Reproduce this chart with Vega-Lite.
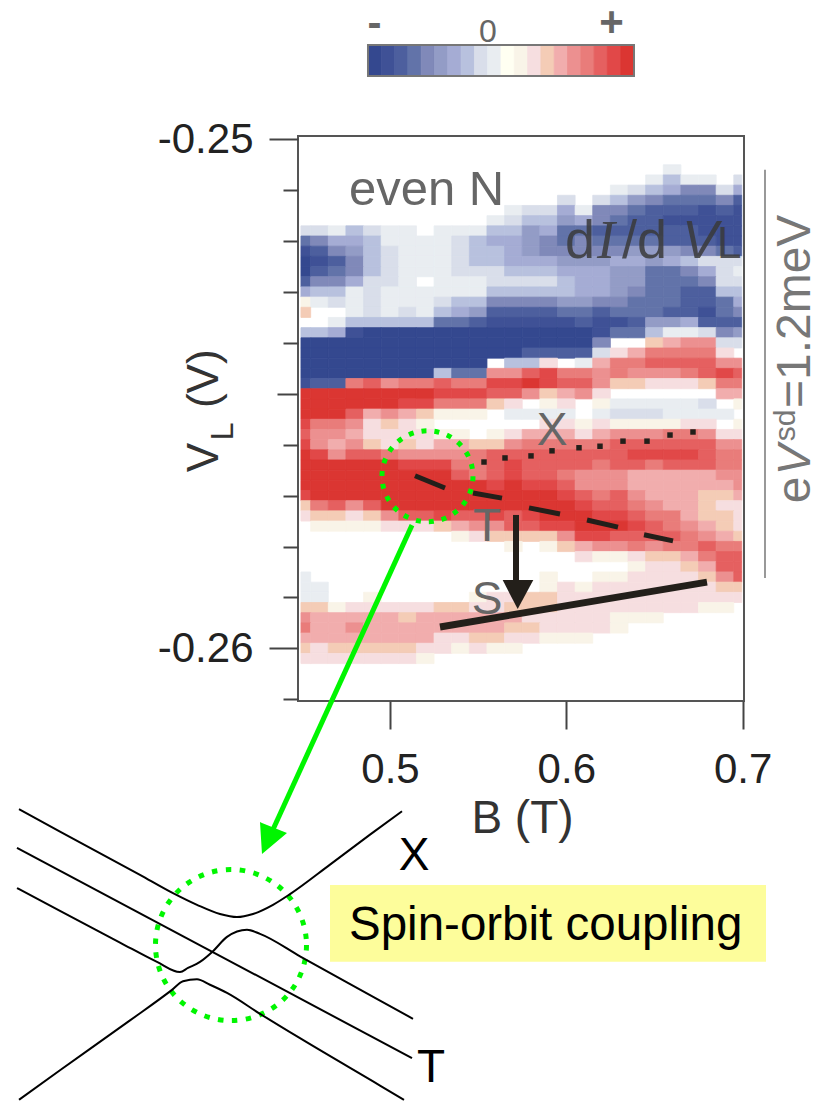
{"$schema":"https://vega.github.io/schema/vega-lite/v6.json","autosize":{"type":"none"},"padding":{"left":298,"top":136,"right":72,"bottom":400},"width":446,"height":565,"background":"white","config":{"view":{"stroke":"#555","strokeWidth":2},"font":"Liberation Sans"},
"encoding":{"x":{"field":"b","type":"quantitative","scale":{"domain":[0.44782,0.70079],"nice":false,"zero":false},"axis":{"values":[0.5,0.6,0.7],"format":".1f","grid":false,"domain":false,"tickSize":28,"tickWidth":2,"tickColor":"#444","labelFontSize":42,"labelColor":"#222","labelPadding":20,"labelFont":"Liberation Sans","labelFlush":false,"labelOverlap":false,"title":"B (T)","titleFontSize":46,"titleFontWeight":"normal","titleColor":"#333","titleFont":"Liberation Sans","titleX":224,"titleY":131,"titleBaseline":"alphabetic","titleAlign":"center"}},
"y":{"field":"v","type":"quantitative","scale":{"domain":[-0.261035,-0.249935],"nice":false,"zero":false},"axis":{"values":[-0.25,-0.251,-0.252,-0.253,-0.254,-0.255,-0.256,-0.257,-0.258,-0.259,-0.26,-0.261],"grid":false,"domain":false,"tickWidth":2,"tickColor":"#444","tickSize":{"condition":[{"test":"abs(datum.value+0.25)<0.0001||abs(datum.value+0.26)<0.0001","value":29},{"test":"abs(datum.value+0.255)<0.0001","value":21}],"value":15},"labelExpr":"abs(datum.value+0.25)<0.0001?'-0.25':abs(datum.value+0.26)<0.0001?'-0.26':''","labelFontSize":42,"labelColor":"#222","labelPadding":16,"labelFont":"Liberation Sans","labelOverlap":false,"labelFlush":false,"title":null}}},
"layer":[
{"data":{"values":[
{"b":0.66,"v":-0.2506,"z":-1},
{"b":0.65,"v":-0.2508,"z":-1},{"b":0.66,"v":-0.2508,"z":-3},{"b":0.67,"v":-0.2508,"z":-1},{"b":0.68,"v":-0.2508,"z":-1},{"b":0.7,"v":-0.2508,"z":-2},
{"b":0.63,"v":-0.251,"z":-1},{"b":0.64,"v":-0.251,"z":-2},{"b":0.65,"v":-0.251,"z":-3},{"b":0.66,"v":-0.251,"z":-4},{"b":0.67,"v":-0.251,"z":-6},{"b":0.68,"v":-0.251,"z":-6},{"b":0.69,"v":-0.251,"z":-2},{"b":0.7,"v":-0.251,"z":-4},
{"b":0.6,"v":-0.2512,"z":-2},{"b":0.62,"v":-0.2512,"z":-2},{"b":0.63,"v":-0.2512,"z":-3},{"b":0.64,"v":-0.2512,"z":-5},{"b":0.65,"v":-0.2512,"z":-6},{"b":0.66,"v":-0.2512,"z":-7},{"b":0.67,"v":-0.2512,"z":-7},{"b":0.68,"v":-0.2512,"z":-7},{"b":0.69,"v":-0.2512,"z":-6},{"b":0.7,"v":-0.2512,"z":-8},
{"b":0.57,"v":-0.2514,"z":-1},{"b":0.58,"v":-0.2514,"z":-2},{"b":0.59,"v":-0.2514,"z":-2},{"b":0.6,"v":-0.2514,"z":-4},{"b":0.61,"v":-0.2514,"z":-1},{"b":0.62,"v":-0.2514,"z":-6},{"b":0.63,"v":-0.2514,"z":-6},{"b":0.64,"v":-0.2514,"z":-7},{"b":0.65,"v":-0.2514,"z":-8},{"b":0.66,"v":-0.2514,"z":-8},{"b":0.67,"v":-0.2514,"z":-8},{"b":0.68,"v":-0.2514,"z":-9},{"b":0.69,"v":-0.2514,"z":-8},{"b":0.7,"v":-0.2514,"z":-9},
{"b":0.56,"v":-0.2516,"z":-1},{"b":0.57,"v":-0.2516,"z":-2},{"b":0.58,"v":-0.2516,"z":-3},{"b":0.59,"v":-0.2516,"z":-3},{"b":0.6,"v":-0.2516,"z":-5},{"b":0.61,"v":-0.2516,"z":-4},{"b":0.62,"v":-0.2516,"z":-6},{"b":0.63,"v":-0.2516,"z":-7},{"b":0.64,"v":-0.2516,"z":-8},{"b":0.65,"v":-0.2516,"z":-8},{"b":0.66,"v":-0.2516,"z":-9},{"b":0.67,"v":-0.2516,"z":-9},{"b":0.68,"v":-0.2516,"z":-9},{"b":0.69,"v":-0.2516,"z":-9},{"b":0.7,"v":-0.2516,"z":-9},
{"b":0.45,"v":-0.2518,"z":-2},{"b":0.46,"v":-0.2518,"z":-2},{"b":0.47,"v":-0.2518,"z":-1},{"b":0.48,"v":-0.2518,"z":-3},{"b":0.49,"v":-0.2518,"z":-2},{"b":0.5,"v":-0.2518,"z":-1},{"b":0.51,"v":-0.2518,"z":-1},{"b":0.53,"v":-0.2518,"z":-1},{"b":0.54,"v":-0.2518,"z":-1},{"b":0.55,"v":-0.2518,"z":-1},{"b":0.56,"v":-0.2518,"z":-3},{"b":0.57,"v":-0.2518,"z":-3},{"b":0.58,"v":-0.2518,"z":-5},{"b":0.59,"v":-0.2518,"z":-4},{"b":0.6,"v":-0.2518,"z":-7},{"b":0.61,"v":-0.2518,"z":-7},{"b":0.62,"v":-0.2518,"z":-8},{"b":0.63,"v":-0.2518,"z":-8},{"b":0.64,"v":-0.2518,"z":-8},{"b":0.65,"v":-0.2518,"z":-8},{"b":0.66,"v":-0.2518,"z":-8},{"b":0.67,"v":-0.2518,"z":-8},{"b":0.68,"v":-0.2518,"z":-9},{"b":0.69,"v":-0.2518,"z":-9},{"b":0.7,"v":-0.2518,"z":-9},
{"b":0.45,"v":-0.252,"z":-7},{"b":0.46,"v":-0.252,"z":-6},{"b":0.47,"v":-0.252,"z":-4},{"b":0.48,"v":-0.252,"z":-4},{"b":0.49,"v":-0.252,"z":-3},{"b":0.5,"v":-0.252,"z":-1},{"b":0.51,"v":-0.252,"z":-1},{"b":0.52,"v":-0.252,"z":-1},{"b":0.53,"v":-0.252,"z":-1},{"b":0.54,"v":-0.252,"z":-2},{"b":0.55,"v":-0.252,"z":-3},{"b":0.56,"v":-0.252,"z":-4},{"b":0.57,"v":-0.252,"z":-4},{"b":0.58,"v":-0.252,"z":-5},{"b":0.59,"v":-0.252,"z":-6},{"b":0.6,"v":-0.252,"z":-7},{"b":0.61,"v":-0.252,"z":-6},{"b":0.62,"v":-0.252,"z":-7},{"b":0.63,"v":-0.252,"z":-7},{"b":0.64,"v":-0.252,"z":-7},{"b":0.65,"v":-0.252,"z":-7},{"b":0.66,"v":-0.252,"z":-8},{"b":0.67,"v":-0.252,"z":-8},{"b":0.68,"v":-0.252,"z":-8},{"b":0.69,"v":-0.252,"z":-9},{"b":0.7,"v":-0.252,"z":-9},
{"b":0.45,"v":-0.2522,"z":-9},{"b":0.46,"v":-0.2522,"z":-8},{"b":0.47,"v":-0.2522,"z":-6},{"b":0.48,"v":-0.2522,"z":-5},{"b":0.49,"v":-0.2522,"z":-3},{"b":0.5,"v":-0.2522,"z":-2},{"b":0.51,"v":-0.2522,"z":-1},{"b":0.52,"v":-0.2522,"z":-1},{"b":0.53,"v":-0.2522,"z":-1},{"b":0.54,"v":-0.2522,"z":-2},{"b":0.55,"v":-0.2522,"z":-3},{"b":0.56,"v":-0.2522,"z":-3},{"b":0.57,"v":-0.2522,"z":-4},{"b":0.58,"v":-0.2522,"z":-5},{"b":0.59,"v":-0.2522,"z":-6},{"b":0.6,"v":-0.2522,"z":-6},{"b":0.61,"v":-0.2522,"z":-6},{"b":0.62,"v":-0.2522,"z":-6},{"b":0.63,"v":-0.2522,"z":-6},{"b":0.64,"v":-0.2522,"z":-5},{"b":0.65,"v":-0.2522,"z":-5},{"b":0.66,"v":-0.2522,"z":-5},{"b":0.67,"v":-0.2522,"z":-6},{"b":0.68,"v":-0.2522,"z":-6},{"b":0.69,"v":-0.2522,"z":-7},{"b":0.7,"v":-0.2522,"z":-8},
{"b":0.45,"v":-0.2524,"z":-10},{"b":0.46,"v":-0.2524,"z":-9},{"b":0.47,"v":-0.2524,"z":-8},{"b":0.48,"v":-0.2524,"z":-6},{"b":0.49,"v":-0.2524,"z":-3},{"b":0.5,"v":-0.2524,"z":-2},{"b":0.51,"v":-0.2524,"z":-1},{"b":0.52,"v":-0.2524,"z":-1},{"b":0.53,"v":-0.2524,"z":-1},{"b":0.54,"v":-0.2524,"z":-2},{"b":0.55,"v":-0.2524,"z":-3},{"b":0.56,"v":-0.2524,"z":-3},{"b":0.57,"v":-0.2524,"z":-4},{"b":0.58,"v":-0.2524,"z":-4},{"b":0.59,"v":-0.2524,"z":-4},{"b":0.6,"v":-0.2524,"z":-5},{"b":0.61,"v":-0.2524,"z":-5},{"b":0.62,"v":-0.2524,"z":-5},{"b":0.63,"v":-0.2524,"z":-4},{"b":0.64,"v":-0.2524,"z":-4},{"b":0.65,"v":-0.2524,"z":-5},{"b":0.66,"v":-0.2524,"z":-4},{"b":0.67,"v":-0.2524,"z":-3},{"b":0.68,"v":-0.2524,"z":-2},{"b":0.69,"v":-0.2524,"z":-2},{"b":0.7,"v":-0.2524,"z":-2},
{"b":0.45,"v":-0.2526,"z":-10},{"b":0.46,"v":-0.2526,"z":-8},{"b":0.47,"v":-0.2526,"z":-7},{"b":0.48,"v":-0.2526,"z":-6},{"b":0.49,"v":-0.2526,"z":-3},{"b":0.5,"v":-0.2526,"z":-2},{"b":0.51,"v":-0.2526,"z":-1},{"b":0.52,"v":-0.2526,"z":-1},{"b":0.53,"v":-0.2526,"z":-1},{"b":0.54,"v":-0.2526,"z":-2},{"b":0.55,"v":-0.2526,"z":-2},{"b":0.56,"v":-0.2526,"z":-2},{"b":0.57,"v":-0.2526,"z":-3},{"b":0.58,"v":-0.2526,"z":-3},{"b":0.59,"v":-0.2526,"z":-3},{"b":0.6,"v":-0.2526,"z":-4},{"b":0.61,"v":-0.2526,"z":-4},{"b":0.62,"v":-0.2526,"z":-4},{"b":0.63,"v":-0.2526,"z":-5},{"b":0.64,"v":-0.2526,"z":-5},{"b":0.65,"v":-0.2526,"z":-7},{"b":0.66,"v":-0.2526,"z":-7},{"b":0.67,"v":-0.2526,"z":-6},{"b":0.68,"v":-0.2526,"z":-4},{"b":0.69,"v":-0.2526,"z":-2},{"b":0.7,"v":-0.2526,"z":-1},
{"b":0.45,"v":-0.2528,"z":-8},{"b":0.46,"v":-0.2528,"z":-6},{"b":0.47,"v":-0.2528,"z":-6},{"b":0.48,"v":-0.2528,"z":-4},{"b":0.49,"v":-0.2528,"z":-2},{"b":0.5,"v":-0.2528,"z":-2},{"b":0.51,"v":-0.2528,"z":-1},{"b":0.53,"v":-0.2528,"z":-1},{"b":0.54,"v":-0.2528,"z":-1},{"b":0.55,"v":-0.2528,"z":-1},{"b":0.56,"v":-0.2528,"z":-2},{"b":0.57,"v":-0.2528,"z":-2},{"b":0.58,"v":-0.2528,"z":-2},{"b":0.59,"v":-0.2528,"z":-2},{"b":0.6,"v":-0.2528,"z":-3},{"b":0.61,"v":-0.2528,"z":-4},{"b":0.62,"v":-0.2528,"z":-4},{"b":0.63,"v":-0.2528,"z":-5},{"b":0.64,"v":-0.2528,"z":-5},{"b":0.65,"v":-0.2528,"z":-7},{"b":0.66,"v":-0.2528,"z":-7},{"b":0.67,"v":-0.2528,"z":-7},{"b":0.68,"v":-0.2528,"z":-6},{"b":0.69,"v":-0.2528,"z":-2},{"b":0.7,"v":-0.2528,"z":-2},
{"b":0.45,"v":-0.253,"z":-4},{"b":0.46,"v":-0.253,"z":-3},{"b":0.47,"v":-0.253,"z":-3},{"b":0.48,"v":-0.253,"z":-1},{"b":0.49,"v":-0.253,"z":-2},{"b":0.5,"v":-0.253,"z":-1},{"b":0.51,"v":-0.253,"z":-1},{"b":0.52,"v":-0.253,"z":-1},{"b":0.53,"v":-0.253,"z":-1},{"b":0.54,"v":-0.253,"z":-1},{"b":0.55,"v":-0.253,"z":-1},{"b":0.56,"v":-0.253,"z":-3},{"b":0.57,"v":-0.253,"z":-3},{"b":0.58,"v":-0.253,"z":-3},{"b":0.59,"v":-0.253,"z":-3},{"b":0.6,"v":-0.253,"z":-3},{"b":0.61,"v":-0.253,"z":-4},{"b":0.62,"v":-0.253,"z":-4},{"b":0.63,"v":-0.253,"z":-5},{"b":0.64,"v":-0.253,"z":-6},{"b":0.65,"v":-0.253,"z":-7},{"b":0.66,"v":-0.253,"z":-7},{"b":0.67,"v":-0.253,"z":-8},{"b":0.68,"v":-0.253,"z":-8},{"b":0.69,"v":-0.253,"z":-3},{"b":0.7,"v":-0.253,"z":-3},
{"b":0.45,"v":-0.2532,"z":1},{"b":0.46,"v":-0.2532,"z":-1},{"b":0.47,"v":-0.2532,"z":-2},{"b":0.48,"v":-0.2532,"z":-1},{"b":0.49,"v":-0.2532,"z":-2},{"b":0.5,"v":-0.2532,"z":-1},{"b":0.51,"v":-0.2532,"z":-1},{"b":0.52,"v":-0.2532,"z":-1},{"b":0.53,"v":-0.2532,"z":-2},{"b":0.54,"v":-0.2532,"z":-3},{"b":0.55,"v":-0.2532,"z":-3},{"b":0.56,"v":-0.2532,"z":-6},{"b":0.57,"v":-0.2532,"z":-6},{"b":0.58,"v":-0.2532,"z":-6},{"b":0.59,"v":-0.2532,"z":-6},{"b":0.6,"v":-0.2532,"z":-5},{"b":0.61,"v":-0.2532,"z":-5},{"b":0.62,"v":-0.2532,"z":-6},{"b":0.63,"v":-0.2532,"z":-6},{"b":0.64,"v":-0.2532,"z":-7},{"b":0.65,"v":-0.2532,"z":-7},{"b":0.66,"v":-0.2532,"z":-7},{"b":0.67,"v":-0.2532,"z":-8},{"b":0.68,"v":-0.2532,"z":-8},{"b":0.69,"v":-0.2532,"z":-7},{"b":0.7,"v":-0.2532,"z":-4},
{"b":0.45,"v":-0.2534,"z":3},{"b":0.48,"v":-0.2534,"z":-1},{"b":0.49,"v":-0.2534,"z":-2},{"b":0.5,"v":-0.2534,"z":-1},{"b":0.51,"v":-0.2534,"z":-2},{"b":0.52,"v":-0.2534,"z":-1},{"b":0.53,"v":-0.2534,"z":-3},{"b":0.54,"v":-0.2534,"z":-4},{"b":0.55,"v":-0.2534,"z":-5},{"b":0.56,"v":-0.2534,"z":-8},{"b":0.57,"v":-0.2534,"z":-8},{"b":0.58,"v":-0.2534,"z":-8},{"b":0.59,"v":-0.2534,"z":-8},{"b":0.6,"v":-0.2534,"z":-7},{"b":0.61,"v":-0.2534,"z":-7},{"b":0.62,"v":-0.2534,"z":-8},{"b":0.63,"v":-0.2534,"z":-7},{"b":0.64,"v":-0.2534,"z":-7},{"b":0.65,"v":-0.2534,"z":-7},{"b":0.66,"v":-0.2534,"z":-8},{"b":0.67,"v":-0.2534,"z":-8},{"b":0.68,"v":-0.2534,"z":-9},{"b":0.69,"v":-0.2534,"z":-7},{"b":0.7,"v":-0.2534,"z":-6},
{"b":0.47,"v":-0.2536,"z":-1},{"b":0.48,"v":-0.2536,"z":-3},{"b":0.49,"v":-0.2536,"z":-3},{"b":0.5,"v":-0.2536,"z":-3},{"b":0.51,"v":-0.2536,"z":-3},{"b":0.52,"v":-0.2536,"z":-3},{"b":0.53,"v":-0.2536,"z":-7},{"b":0.54,"v":-0.2536,"z":-7},{"b":0.55,"v":-0.2536,"z":-8},{"b":0.56,"v":-0.2536,"z":-9},{"b":0.57,"v":-0.2536,"z":-9},{"b":0.58,"v":-0.2536,"z":-9},{"b":0.59,"v":-0.2536,"z":-9},{"b":0.6,"v":-0.2536,"z":-9},{"b":0.61,"v":-0.2536,"z":-8},{"b":0.62,"v":-0.2536,"z":-9},{"b":0.63,"v":-0.2536,"z":-9},{"b":0.64,"v":-0.2536,"z":-8},{"b":0.65,"v":-0.2536,"z":-5},{"b":0.66,"v":-0.2536,"z":-5},{"b":0.67,"v":-0.2536,"z":-4},{"b":0.68,"v":-0.2536,"z":-8},{"b":0.69,"v":-0.2536,"z":-8},{"b":0.7,"v":-0.2536,"z":-8},
{"b":0.45,"v":-0.2538,"z":-3},{"b":0.46,"v":-0.2538,"z":-3},{"b":0.47,"v":-0.2538,"z":-4},{"b":0.48,"v":-0.2538,"z":-9},{"b":0.49,"v":-0.2538,"z":-10},{"b":0.5,"v":-0.2538,"z":-10},{"b":0.51,"v":-0.2538,"z":-10},{"b":0.52,"v":-0.2538,"z":-10},{"b":0.53,"v":-0.2538,"z":-10},{"b":0.54,"v":-0.2538,"z":-10},{"b":0.55,"v":-0.2538,"z":-10},{"b":0.56,"v":-0.2538,"z":-10},{"b":0.57,"v":-0.2538,"z":-10},{"b":0.58,"v":-0.2538,"z":-10},{"b":0.59,"v":-0.2538,"z":-10},{"b":0.6,"v":-0.2538,"z":-10},{"b":0.61,"v":-0.2538,"z":-10},{"b":0.62,"v":-0.2538,"z":-9},{"b":0.63,"v":-0.2538,"z":-7},{"b":0.64,"v":-0.2538,"z":-7},{"b":0.65,"v":-0.2538,"z":-3},{"b":0.66,"v":-0.2538,"z":-1},{"b":0.67,"v":-0.2538,"z":-1},{"b":0.68,"v":-0.2538,"z":-2},{"b":0.69,"v":-0.2538,"z":-6},{"b":0.7,"v":-0.2538,"z":-5},
{"b":0.45,"v":-0.254,"z":-10},{"b":0.46,"v":-0.254,"z":-10},{"b":0.47,"v":-0.254,"z":-10},{"b":0.48,"v":-0.254,"z":-10},{"b":0.49,"v":-0.254,"z":-10},{"b":0.5,"v":-0.254,"z":-10},{"b":0.51,"v":-0.254,"z":-10},{"b":0.52,"v":-0.254,"z":-10},{"b":0.53,"v":-0.254,"z":-10},{"b":0.54,"v":-0.254,"z":-10},{"b":0.55,"v":-0.254,"z":-10},{"b":0.56,"v":-0.254,"z":-10},{"b":0.57,"v":-0.254,"z":-10},{"b":0.58,"v":-0.254,"z":-10},{"b":0.59,"v":-0.254,"z":-10},{"b":0.6,"v":-0.254,"z":-10},{"b":0.61,"v":-0.254,"z":-10},{"b":0.62,"v":-0.254,"z":-6},{"b":0.65,"v":-0.254,"z":3},{"b":0.66,"v":-0.254,"z":4},{"b":0.67,"v":-0.254,"z":5},{"b":0.68,"v":-0.254,"z":5},{"b":0.69,"v":-0.254,"z":-2},{"b":0.7,"v":-0.254,"z":-2},
{"b":0.45,"v":-0.2542,"z":-10},{"b":0.46,"v":-0.2542,"z":-10},{"b":0.47,"v":-0.2542,"z":-10},{"b":0.48,"v":-0.2542,"z":-10},{"b":0.49,"v":-0.2542,"z":-10},{"b":0.5,"v":-0.2542,"z":-10},{"b":0.51,"v":-0.2542,"z":-10},{"b":0.52,"v":-0.2542,"z":-10},{"b":0.53,"v":-0.2542,"z":-10},{"b":0.54,"v":-0.2542,"z":-10},{"b":0.55,"v":-0.2542,"z":-10},{"b":0.56,"v":-0.2542,"z":-10},{"b":0.57,"v":-0.2542,"z":-10},{"b":0.58,"v":-0.2542,"z":-8},{"b":0.59,"v":-0.2542,"z":-8},{"b":0.6,"v":-0.2542,"z":-8},{"b":0.61,"v":-0.2542,"z":-8},{"b":0.62,"v":-0.2542,"z":-2},{"b":0.63,"v":-0.2542,"z":2},{"b":0.64,"v":-0.2542,"z":4},{"b":0.65,"v":-0.2542,"z":6},{"b":0.66,"v":-0.2542,"z":6},{"b":0.67,"v":-0.2542,"z":6},{"b":0.68,"v":-0.2542,"z":6},{"b":0.69,"v":-0.2542,"z":2},
{"b":0.45,"v":-0.2544,"z":-10},{"b":0.46,"v":-0.2544,"z":-10},{"b":0.47,"v":-0.2544,"z":-10},{"b":0.48,"v":-0.2544,"z":-10},{"b":0.49,"v":-0.2544,"z":-10},{"b":0.5,"v":-0.2544,"z":-10},{"b":0.51,"v":-0.2544,"z":-10},{"b":0.52,"v":-0.2544,"z":-10},{"b":0.53,"v":-0.2544,"z":-10},{"b":0.54,"v":-0.2544,"z":-10},{"b":0.55,"v":-0.2544,"z":-10},{"b":0.57,"v":-0.2544,"z":-3},{"b":0.58,"v":-0.2544,"z":-3},{"b":0.59,"v":-0.2544,"z":2},{"b":0.61,"v":-0.2544,"z":-1},{"b":0.62,"v":-0.2544,"z":4},{"b":0.63,"v":-0.2544,"z":6},{"b":0.64,"v":-0.2544,"z":6},{"b":0.65,"v":-0.2544,"z":7},{"b":0.66,"v":-0.2544,"z":7},{"b":0.67,"v":-0.2544,"z":7},{"b":0.68,"v":-0.2544,"z":7},{"b":0.69,"v":-0.2544,"z":5},{"b":0.7,"v":-0.2544,"z":5},
{"b":0.45,"v":-0.2546,"z":-10},{"b":0.46,"v":-0.2546,"z":-10},{"b":0.47,"v":-0.2546,"z":-10},{"b":0.48,"v":-0.2546,"z":-10},{"b":0.49,"v":-0.2546,"z":-10},{"b":0.5,"v":-0.2546,"z":-10},{"b":0.51,"v":-0.2546,"z":-10},{"b":0.52,"v":-0.2546,"z":-10},{"b":0.53,"v":-0.2546,"z":-3},{"b":0.54,"v":-0.2546,"z":-7},{"b":0.55,"v":-0.2546,"z":-7},{"b":0.56,"v":-0.2546,"z":5},{"b":0.57,"v":-0.2546,"z":5},{"b":0.58,"v":-0.2546,"z":7},{"b":0.59,"v":-0.2546,"z":8},{"b":0.6,"v":-0.2546,"z":6},{"b":0.61,"v":-0.2546,"z":6},{"b":0.62,"v":-0.2546,"z":5},{"b":0.63,"v":-0.2546,"z":6},{"b":0.64,"v":-0.2546,"z":5},{"b":0.65,"v":-0.2546,"z":5},{"b":0.66,"v":-0.2546,"z":5},{"b":0.67,"v":-0.2546,"z":6},{"b":0.68,"v":-0.2546,"z":7},{"b":0.69,"v":-0.2546,"z":8},{"b":0.7,"v":-0.2546,"z":7},
{"b":0.45,"v":-0.2548,"z":-9},{"b":0.46,"v":-0.2548,"z":-8},{"b":0.47,"v":-0.2548,"z":-8},{"b":0.48,"v":-0.2548,"z":6},{"b":0.49,"v":-0.2548,"z":7},{"b":0.5,"v":-0.2548,"z":5},{"b":0.51,"v":-0.2548,"z":6},{"b":0.52,"v":-0.2548,"z":6},{"b":0.53,"v":-0.2548,"z":7},{"b":0.54,"v":-0.2548,"z":6},{"b":0.55,"v":-0.2548,"z":6},{"b":0.56,"v":-0.2548,"z":8},{"b":0.57,"v":-0.2548,"z":8},{"b":0.58,"v":-0.2548,"z":9},{"b":0.59,"v":-0.2548,"z":8},{"b":0.6,"v":-0.2548,"z":7},{"b":0.61,"v":-0.2548,"z":7},{"b":0.62,"v":-0.2548,"z":5},{"b":0.63,"v":-0.2548,"z":3},{"b":0.64,"v":-0.2548,"z":3},{"b":0.65,"v":-0.2548,"z":2},{"b":0.66,"v":-0.2548,"z":2},{"b":0.67,"v":-0.2548,"z":2},{"b":0.68,"v":-0.2548,"z":3},{"b":0.69,"v":-0.2548,"z":6},{"b":0.7,"v":-0.2548,"z":6},
{"b":0.45,"v":-0.255,"z":9},{"b":0.46,"v":-0.255,"z":9},{"b":0.47,"v":-0.255,"z":9},{"b":0.48,"v":-0.255,"z":9},{"b":0.49,"v":-0.255,"z":9},{"b":0.5,"v":-0.255,"z":9},{"b":0.51,"v":-0.255,"z":9},{"b":0.52,"v":-0.255,"z":9},{"b":0.53,"v":-0.255,"z":8},{"b":0.54,"v":-0.255,"z":8},{"b":0.55,"v":-0.255,"z":8},{"b":0.56,"v":-0.255,"z":7},{"b":0.57,"v":-0.255,"z":7},{"b":0.58,"v":-0.255,"z":5},{"b":0.59,"v":-0.255,"z":3},{"b":0.6,"v":-0.255,"z":4},{"b":0.61,"v":-0.255,"z":5},{"b":0.62,"v":-0.255,"z":2},{"b":0.69,"v":-0.255,"z":4},{"b":0.7,"v":-0.255,"z":4},
{"b":0.45,"v":-0.2552,"z":9},{"b":0.46,"v":-0.2552,"z":9},{"b":0.47,"v":-0.2552,"z":9},{"b":0.48,"v":-0.2552,"z":9},{"b":0.49,"v":-0.2552,"z":9},{"b":0.5,"v":-0.2552,"z":9},{"b":0.51,"v":-0.2552,"z":8},{"b":0.52,"v":-0.2552,"z":8},{"b":0.53,"v":-0.2552,"z":6},{"b":0.54,"v":-0.2552,"z":6},{"b":0.55,"v":-0.2552,"z":6},{"b":0.56,"v":-0.2552,"z":3},{"b":0.57,"v":-0.2552,"z":2},{"b":0.59,"v":-0.2552,"z":1},{"b":0.6,"v":-0.2552,"z":2},{"b":0.62,"v":-0.2552,"z":1},{"b":0.63,"v":-0.2552,"z":-1},{"b":0.64,"v":-0.2552,"z":-1},{"b":0.65,"v":-0.2552,"z":-1},{"b":0.66,"v":-0.2552,"z":-1},{"b":0.67,"v":-0.2552,"z":-1},{"b":0.68,"v":-0.2552,"z":-2},{"b":0.7,"v":-0.2552,"z":1},
{"b":0.45,"v":-0.2554,"z":9},{"b":0.46,"v":-0.2554,"z":9},{"b":0.47,"v":-0.2554,"z":9},{"b":0.48,"v":-0.2554,"z":7},{"b":0.49,"v":-0.2554,"z":4},{"b":0.5,"v":-0.2554,"z":5},{"b":0.51,"v":-0.2554,"z":4},{"b":0.52,"v":-0.2554,"z":3},{"b":0.53,"v":-0.2554,"z":1},{"b":0.54,"v":-0.2554,"z":1},{"b":0.55,"v":-0.2554,"z":1},{"b":0.57,"v":-0.2554,"z":-1},{"b":0.58,"v":-0.2554,"z":-1},{"b":0.59,"v":-0.2554,"z":-1},{"b":0.6,"v":-0.2554,"z":-1},{"b":0.62,"v":-0.2554,"z":-1},{"b":0.63,"v":-0.2554,"z":-2},{"b":0.64,"v":-0.2554,"z":-2},{"b":0.65,"v":-0.2554,"z":-2},{"b":0.66,"v":-0.2554,"z":-1},{"b":0.67,"v":-0.2554,"z":-1},{"b":0.68,"v":-0.2554,"z":-1},{"b":0.69,"v":-0.2554,"z":-1},
{"b":0.45,"v":-0.2556,"z":8},{"b":0.46,"v":-0.2556,"z":6},{"b":0.47,"v":-0.2556,"z":6},{"b":0.48,"v":-0.2556,"z":5},{"b":0.49,"v":-0.2556,"z":2},{"b":0.5,"v":-0.2556,"z":3},{"b":0.51,"v":-0.2556,"z":2},{"b":0.52,"v":-0.2556,"z":1},{"b":0.59,"v":-0.2556,"z":2},{"b":0.6,"v":-0.2556,"z":2},{"b":0.61,"v":-0.2556,"z":1},{"b":0.62,"v":-0.2556,"z":2},{"b":0.63,"v":-0.2556,"z":1},{"b":0.64,"v":-0.2556,"z":1},{"b":0.65,"v":-0.2556,"z":1},{"b":0.66,"v":-0.2556,"z":1},{"b":0.67,"v":-0.2556,"z":2},{"b":0.68,"v":-0.2556,"z":2},{"b":0.7,"v":-0.2556,"z":1},
{"b":0.45,"v":-0.2558,"z":7},{"b":0.46,"v":-0.2558,"z":5},{"b":0.47,"v":-0.2558,"z":5},{"b":0.48,"v":-0.2558,"z":4},{"b":0.49,"v":-0.2558,"z":2},{"b":0.5,"v":-0.2558,"z":2},{"b":0.51,"v":-0.2558,"z":2},{"b":0.52,"v":-0.2558,"z":2},{"b":0.53,"v":-0.2558,"z":1},{"b":0.54,"v":-0.2558,"z":1},{"b":0.56,"v":-0.2558,"z":1},{"b":0.57,"v":-0.2558,"z":2},{"b":0.58,"v":-0.2558,"z":4},{"b":0.59,"v":-0.2558,"z":4},{"b":0.6,"v":-0.2558,"z":4},{"b":0.61,"v":-0.2558,"z":2},{"b":0.62,"v":-0.2558,"z":4},{"b":0.63,"v":-0.2558,"z":5},{"b":0.64,"v":-0.2558,"z":5},{"b":0.65,"v":-0.2558,"z":5},{"b":0.66,"v":-0.2558,"z":6},{"b":0.67,"v":-0.2558,"z":6},{"b":0.68,"v":-0.2558,"z":5},{"b":0.69,"v":-0.2558,"z":2},{"b":0.7,"v":-0.2558,"z":2},
{"b":0.45,"v":-0.256,"z":8},{"b":0.46,"v":-0.256,"z":5},{"b":0.47,"v":-0.256,"z":4},{"b":0.48,"v":-0.256,"z":5},{"b":0.49,"v":-0.256,"z":3},{"b":0.5,"v":-0.256,"z":2},{"b":0.51,"v":-0.256,"z":3},{"b":0.52,"v":-0.256,"z":2},{"b":0.53,"v":-0.256,"z":4},{"b":0.54,"v":-0.256,"z":4},{"b":0.55,"v":-0.256,"z":3},{"b":0.56,"v":-0.256,"z":3},{"b":0.57,"v":-0.256,"z":5},{"b":0.58,"v":-0.256,"z":6},{"b":0.59,"v":-0.256,"z":6},{"b":0.6,"v":-0.256,"z":6},{"b":0.61,"v":-0.256,"z":6},{"b":0.62,"v":-0.256,"z":6},{"b":0.63,"v":-0.256,"z":7},{"b":0.64,"v":-0.256,"z":7},{"b":0.65,"v":-0.256,"z":7},{"b":0.66,"v":-0.256,"z":7},{"b":0.67,"v":-0.256,"z":7},{"b":0.68,"v":-0.256,"z":7},{"b":0.69,"v":-0.256,"z":5},{"b":0.7,"v":-0.256,"z":5},
{"b":0.45,"v":-0.2562,"z":9},{"b":0.46,"v":-0.2562,"z":8},{"b":0.47,"v":-0.2562,"z":5},{"b":0.48,"v":-0.2562,"z":7},{"b":0.49,"v":-0.2562,"z":7},{"b":0.5,"v":-0.2562,"z":6},{"b":0.51,"v":-0.2562,"z":5},{"b":0.52,"v":-0.2562,"z":5},{"b":0.53,"v":-0.2562,"z":5},{"b":0.54,"v":-0.2562,"z":5},{"b":0.55,"v":-0.2562,"z":6},{"b":0.56,"v":-0.2562,"z":7},{"b":0.57,"v":-0.2562,"z":7},{"b":0.58,"v":-0.2562,"z":7},{"b":0.59,"v":-0.2562,"z":7},{"b":0.6,"v":-0.2562,"z":7},{"b":0.61,"v":-0.2562,"z":7},{"b":0.62,"v":-0.2562,"z":7},{"b":0.63,"v":-0.2562,"z":7},{"b":0.64,"v":-0.2562,"z":8},{"b":0.65,"v":-0.2562,"z":8},{"b":0.66,"v":-0.2562,"z":8},{"b":0.67,"v":-0.2562,"z":8},{"b":0.68,"v":-0.2562,"z":7},{"b":0.69,"v":-0.2562,"z":6},{"b":0.7,"v":-0.2562,"z":6},
{"b":0.45,"v":-0.2564,"z":9},{"b":0.46,"v":-0.2564,"z":9},{"b":0.47,"v":-0.2564,"z":9},{"b":0.48,"v":-0.2564,"z":9},{"b":0.49,"v":-0.2564,"z":9},{"b":0.5,"v":-0.2564,"z":9},{"b":0.51,"v":-0.2564,"z":8},{"b":0.52,"v":-0.2564,"z":8},{"b":0.53,"v":-0.2564,"z":8},{"b":0.54,"v":-0.2564,"z":6},{"b":0.55,"v":-0.2564,"z":6},{"b":0.56,"v":-0.2564,"z":7},{"b":0.57,"v":-0.2564,"z":8},{"b":0.58,"v":-0.2564,"z":7},{"b":0.59,"v":-0.2564,"z":7},{"b":0.6,"v":-0.2564,"z":7},{"b":0.61,"v":-0.2564,"z":7},{"b":0.62,"v":-0.2564,"z":6},{"b":0.63,"v":-0.2564,"z":7},{"b":0.64,"v":-0.2564,"z":7},{"b":0.65,"v":-0.2564,"z":6},{"b":0.66,"v":-0.2564,"z":7},{"b":0.67,"v":-0.2564,"z":7},{"b":0.68,"v":-0.2564,"z":7},{"b":0.69,"v":-0.2564,"z":6},{"b":0.7,"v":-0.2564,"z":6},
{"b":0.45,"v":-0.2566,"z":9},{"b":0.46,"v":-0.2566,"z":9},{"b":0.47,"v":-0.2566,"z":9},{"b":0.48,"v":-0.2566,"z":9},{"b":0.49,"v":-0.2566,"z":9},{"b":0.5,"v":-0.2566,"z":9},{"b":0.51,"v":-0.2566,"z":9},{"b":0.52,"v":-0.2566,"z":9},{"b":0.53,"v":-0.2566,"z":9},{"b":0.54,"v":-0.2566,"z":7},{"b":0.55,"v":-0.2566,"z":6},{"b":0.56,"v":-0.2566,"z":7},{"b":0.57,"v":-0.2566,"z":8},{"b":0.58,"v":-0.2566,"z":7},{"b":0.59,"v":-0.2566,"z":7},{"b":0.6,"v":-0.2566,"z":6},{"b":0.61,"v":-0.2566,"z":5},{"b":0.62,"v":-0.2566,"z":5},{"b":0.63,"v":-0.2566,"z":5},{"b":0.64,"v":-0.2566,"z":4},{"b":0.65,"v":-0.2566,"z":4},{"b":0.66,"v":-0.2566,"z":4},{"b":0.67,"v":-0.2566,"z":4},{"b":0.68,"v":-0.2566,"z":4},{"b":0.69,"v":-0.2566,"z":5},{"b":0.7,"v":-0.2566,"z":5},
{"b":0.45,"v":-0.2568,"z":9},{"b":0.46,"v":-0.2568,"z":9},{"b":0.47,"v":-0.2568,"z":9},{"b":0.48,"v":-0.2568,"z":9},{"b":0.49,"v":-0.2568,"z":9},{"b":0.5,"v":-0.2568,"z":9},{"b":0.51,"v":-0.2568,"z":9},{"b":0.52,"v":-0.2568,"z":9},{"b":0.53,"v":-0.2568,"z":9},{"b":0.54,"v":-0.2568,"z":9},{"b":0.55,"v":-0.2568,"z":9},{"b":0.56,"v":-0.2568,"z":8},{"b":0.57,"v":-0.2568,"z":9},{"b":0.58,"v":-0.2568,"z":8},{"b":0.59,"v":-0.2568,"z":8},{"b":0.6,"v":-0.2568,"z":7},{"b":0.61,"v":-0.2568,"z":5},{"b":0.62,"v":-0.2568,"z":5},{"b":0.63,"v":-0.2568,"z":5},{"b":0.64,"v":-0.2568,"z":4},{"b":0.65,"v":-0.2568,"z":4},{"b":0.66,"v":-0.2568,"z":4},{"b":0.67,"v":-0.2568,"z":4},{"b":0.68,"v":-0.2568,"z":4},{"b":0.69,"v":-0.2568,"z":4},{"b":0.7,"v":-0.2568,"z":5},
{"b":0.45,"v":-0.257,"z":8},{"b":0.46,"v":-0.257,"z":9},{"b":0.47,"v":-0.257,"z":9},{"b":0.48,"v":-0.257,"z":9},{"b":0.49,"v":-0.257,"z":9},{"b":0.5,"v":-0.257,"z":9},{"b":0.51,"v":-0.257,"z":9},{"b":0.52,"v":-0.257,"z":9},{"b":0.53,"v":-0.257,"z":9},{"b":0.54,"v":-0.257,"z":9},{"b":0.55,"v":-0.257,"z":9},{"b":0.56,"v":-0.257,"z":9},{"b":0.57,"v":-0.257,"z":9},{"b":0.58,"v":-0.257,"z":9},{"b":0.59,"v":-0.257,"z":9},{"b":0.6,"v":-0.257,"z":8},{"b":0.61,"v":-0.257,"z":7},{"b":0.62,"v":-0.257,"z":6},{"b":0.63,"v":-0.257,"z":7},{"b":0.64,"v":-0.257,"z":5},{"b":0.65,"v":-0.257,"z":4},{"b":0.66,"v":-0.257,"z":4},{"b":0.67,"v":-0.257,"z":4},{"b":0.68,"v":-0.257,"z":3},{"b":0.69,"v":-0.257,"z":3},{"b":0.7,"v":-0.257,"z":4},
{"b":0.45,"v":-0.2572,"z":3},{"b":0.46,"v":-0.2572,"z":6},{"b":0.47,"v":-0.2572,"z":7},{"b":0.48,"v":-0.2572,"z":5},{"b":0.49,"v":-0.2572,"z":7},{"b":0.5,"v":-0.2572,"z":9},{"b":0.51,"v":-0.2572,"z":9},{"b":0.52,"v":-0.2572,"z":9},{"b":0.53,"v":-0.2572,"z":9},{"b":0.54,"v":-0.2572,"z":9},{"b":0.55,"v":-0.2572,"z":9},{"b":0.56,"v":-0.2572,"z":9},{"b":0.57,"v":-0.2572,"z":9},{"b":0.58,"v":-0.2572,"z":9},{"b":0.59,"v":-0.2572,"z":9},{"b":0.6,"v":-0.2572,"z":9},{"b":0.61,"v":-0.2572,"z":8},{"b":0.62,"v":-0.2572,"z":7},{"b":0.63,"v":-0.2572,"z":7},{"b":0.64,"v":-0.2572,"z":6},{"b":0.65,"v":-0.2572,"z":5},{"b":0.66,"v":-0.2572,"z":4},{"b":0.67,"v":-0.2572,"z":4},{"b":0.68,"v":-0.2572,"z":3},{"b":0.69,"v":-0.2572,"z":2},{"b":0.7,"v":-0.2572,"z":2},
{"b":0.45,"v":-0.2574,"z":2},{"b":0.46,"v":-0.2574,"z":3},{"b":0.47,"v":-0.2574,"z":3},{"b":0.48,"v":-0.2574,"z":2},{"b":0.49,"v":-0.2574,"z":3},{"b":0.5,"v":-0.2574,"z":5},{"b":0.51,"v":-0.2574,"z":7},{"b":0.52,"v":-0.2574,"z":7},{"b":0.53,"v":-0.2574,"z":8},{"b":0.54,"v":-0.2574,"z":7},{"b":0.55,"v":-0.2574,"z":7},{"b":0.56,"v":-0.2574,"z":8},{"b":0.57,"v":-0.2574,"z":7},{"b":0.58,"v":-0.2574,"z":8},{"b":0.59,"v":-0.2574,"z":9},{"b":0.6,"v":-0.2574,"z":9},{"b":0.61,"v":-0.2574,"z":9},{"b":0.62,"v":-0.2574,"z":8},{"b":0.63,"v":-0.2574,"z":8},{"b":0.64,"v":-0.2574,"z":7},{"b":0.65,"v":-0.2574,"z":6},{"b":0.66,"v":-0.2574,"z":6},{"b":0.67,"v":-0.2574,"z":4},{"b":0.68,"v":-0.2574,"z":3},{"b":0.69,"v":-0.2574,"z":3},{"b":0.7,"v":-0.2574,"z":2},
{"b":0.46,"v":-0.2576,"z":1},{"b":0.47,"v":-0.2576,"z":1},{"b":0.48,"v":-0.2576,"z":1},{"b":0.49,"v":-0.2576,"z":1},{"b":0.5,"v":-0.2576,"z":2},{"b":0.51,"v":-0.2576,"z":2},{"b":0.52,"v":-0.2576,"z":2},{"b":0.53,"v":-0.2576,"z":3},{"b":0.54,"v":-0.2576,"z":4},{"b":0.55,"v":-0.2576,"z":5},{"b":0.56,"v":-0.2576,"z":5},{"b":0.57,"v":-0.2576,"z":7},{"b":0.58,"v":-0.2576,"z":7},{"b":0.59,"v":-0.2576,"z":8},{"b":0.6,"v":-0.2576,"z":8},{"b":0.61,"v":-0.2576,"z":9},{"b":0.62,"v":-0.2576,"z":9},{"b":0.63,"v":-0.2576,"z":9},{"b":0.64,"v":-0.2576,"z":8},{"b":0.65,"v":-0.2576,"z":7},{"b":0.66,"v":-0.2576,"z":6},{"b":0.67,"v":-0.2576,"z":5},{"b":0.68,"v":-0.2576,"z":4},{"b":0.69,"v":-0.2576,"z":3},{"b":0.7,"v":-0.2576,"z":2},
{"b":0.54,"v":-0.2578,"z":1},{"b":0.55,"v":-0.2578,"z":2},{"b":0.56,"v":-0.2578,"z":3},{"b":0.57,"v":-0.2578,"z":3},{"b":0.58,"v":-0.2578,"z":3},{"b":0.59,"v":-0.2578,"z":3},{"b":0.6,"v":-0.2578,"z":5},{"b":0.61,"v":-0.2578,"z":8},{"b":0.62,"v":-0.2578,"z":8},{"b":0.63,"v":-0.2578,"z":7},{"b":0.64,"v":-0.2578,"z":7},{"b":0.65,"v":-0.2578,"z":7},{"b":0.66,"v":-0.2578,"z":7},{"b":0.67,"v":-0.2578,"z":6},{"b":0.68,"v":-0.2578,"z":5},{"b":0.69,"v":-0.2578,"z":4},{"b":0.7,"v":-0.2578,"z":3},
{"b":0.57,"v":-0.258,"z":1},{"b":0.59,"v":-0.258,"z":1},{"b":0.6,"v":-0.258,"z":3},{"b":0.61,"v":-0.258,"z":4},{"b":0.62,"v":-0.258,"z":5},{"b":0.63,"v":-0.258,"z":5},{"b":0.64,"v":-0.258,"z":6},{"b":0.65,"v":-0.258,"z":5},{"b":0.66,"v":-0.258,"z":6},{"b":0.67,"v":-0.258,"z":6},{"b":0.68,"v":-0.258,"z":7},{"b":0.69,"v":-0.258,"z":6},{"b":0.7,"v":-0.258,"z":6},
{"b":0.61,"v":-0.2582,"z":2},{"b":0.62,"v":-0.2582,"z":1},{"b":0.63,"v":-0.2582,"z":1},{"b":0.64,"v":-0.2582,"z":2},{"b":0.65,"v":-0.2582,"z":3},{"b":0.66,"v":-0.2582,"z":3},{"b":0.67,"v":-0.2582,"z":4},{"b":0.68,"v":-0.2582,"z":6},{"b":0.69,"v":-0.2582,"z":7},{"b":0.7,"v":-0.2582,"z":7},
{"b":0.64,"v":-0.2584,"z":1},{"b":0.65,"v":-0.2584,"z":2},{"b":0.66,"v":-0.2584,"z":2},{"b":0.67,"v":-0.2584,"z":3},{"b":0.68,"v":-0.2584,"z":4},{"b":0.69,"v":-0.2584,"z":7},{"b":0.7,"v":-0.2584,"z":7},
{"b":0.45,"v":-0.2586,"z":-1},{"b":0.59,"v":-0.2586,"z":1},{"b":0.62,"v":-0.2586,"z":1},{"b":0.63,"v":-0.2586,"z":1},{"b":0.64,"v":-0.2586,"z":2},{"b":0.65,"v":-0.2586,"z":2},{"b":0.66,"v":-0.2586,"z":2},{"b":0.67,"v":-0.2586,"z":2},{"b":0.68,"v":-0.2586,"z":3},{"b":0.69,"v":-0.2586,"z":5},{"b":0.7,"v":-0.2586,"z":7},
{"b":0.45,"v":-0.2588,"z":-1},{"b":0.46,"v":-0.2588,"z":-1},{"b":0.59,"v":-0.2588,"z":1},{"b":0.6,"v":-0.2588,"z":2},{"b":0.61,"v":-0.2588,"z":1},{"b":0.62,"v":-0.2588,"z":2},{"b":0.63,"v":-0.2588,"z":2},{"b":0.64,"v":-0.2588,"z":2},{"b":0.65,"v":-0.2588,"z":2},{"b":0.66,"v":-0.2588,"z":2},{"b":0.67,"v":-0.2588,"z":2},{"b":0.68,"v":-0.2588,"z":2},{"b":0.69,"v":-0.2588,"z":3},{"b":0.7,"v":-0.2588,"z":3},
{"b":0.45,"v":-0.259,"z":-1},{"b":0.46,"v":-0.259,"z":-1},{"b":0.49,"v":-0.259,"z":1},{"b":0.55,"v":-0.259,"z":1},{"b":0.56,"v":-0.259,"z":2},{"b":0.57,"v":-0.259,"z":2},{"b":0.58,"v":-0.259,"z":3},{"b":0.59,"v":-0.259,"z":3},{"b":0.6,"v":-0.259,"z":2},{"b":0.61,"v":-0.259,"z":2},{"b":0.62,"v":-0.259,"z":2},{"b":0.63,"v":-0.259,"z":2},{"b":0.64,"v":-0.259,"z":2},{"b":0.65,"v":-0.259,"z":2},{"b":0.66,"v":-0.259,"z":2},{"b":0.67,"v":-0.259,"z":2},{"b":0.68,"v":-0.259,"z":2},{"b":0.69,"v":-0.259,"z":2},{"b":0.7,"v":-0.259,"z":2},
{"b":0.45,"v":-0.2592,"z":3},{"b":0.46,"v":-0.2592,"z":3},{"b":0.47,"v":-0.2592,"z":1},{"b":0.48,"v":-0.2592,"z":2},{"b":0.49,"v":-0.2592,"z":2},{"b":0.5,"v":-0.2592,"z":2},{"b":0.51,"v":-0.2592,"z":2},{"b":0.52,"v":-0.2592,"z":2},{"b":0.53,"v":-0.2592,"z":3},{"b":0.54,"v":-0.2592,"z":3},{"b":0.55,"v":-0.2592,"z":2},{"b":0.56,"v":-0.2592,"z":2},{"b":0.57,"v":-0.2592,"z":3},{"b":0.58,"v":-0.2592,"z":3},{"b":0.59,"v":-0.2592,"z":3},{"b":0.6,"v":-0.2592,"z":2},{"b":0.61,"v":-0.2592,"z":2},{"b":0.62,"v":-0.2592,"z":2},{"b":0.63,"v":-0.2592,"z":2},{"b":0.64,"v":-0.2592,"z":2},{"b":0.65,"v":-0.2592,"z":2},{"b":0.66,"v":-0.2592,"z":2},{"b":0.67,"v":-0.2592,"z":2},{"b":0.68,"v":-0.2592,"z":1},{"b":0.69,"v":-0.2592,"z":1},
{"b":0.45,"v":-0.2594,"z":5},{"b":0.46,"v":-0.2594,"z":4},{"b":0.47,"v":-0.2594,"z":4},{"b":0.48,"v":-0.2594,"z":4},{"b":0.49,"v":-0.2594,"z":4},{"b":0.5,"v":-0.2594,"z":4},{"b":0.51,"v":-0.2594,"z":3},{"b":0.52,"v":-0.2594,"z":4},{"b":0.53,"v":-0.2594,"z":4},{"b":0.54,"v":-0.2594,"z":4},{"b":0.55,"v":-0.2594,"z":4},{"b":0.56,"v":-0.2594,"z":4},{"b":0.57,"v":-0.2594,"z":4},{"b":0.58,"v":-0.2594,"z":2},{"b":0.59,"v":-0.2594,"z":2},{"b":0.6,"v":-0.2594,"z":2},{"b":0.61,"v":-0.2594,"z":2},{"b":0.62,"v":-0.2594,"z":2},{"b":0.63,"v":-0.2594,"z":1},{"b":0.64,"v":-0.2594,"z":1},{"b":0.65,"v":-0.2594,"z":1},
{"b":0.45,"v":-0.2596,"z":6},{"b":0.46,"v":-0.2596,"z":4},{"b":0.47,"v":-0.2596,"z":4},{"b":0.48,"v":-0.2596,"z":5},{"b":0.49,"v":-0.2596,"z":4},{"b":0.5,"v":-0.2596,"z":4},{"b":0.51,"v":-0.2596,"z":4},{"b":0.52,"v":-0.2596,"z":4},{"b":0.53,"v":-0.2596,"z":4},{"b":0.54,"v":-0.2596,"z":4},{"b":0.55,"v":-0.2596,"z":4},{"b":0.56,"v":-0.2596,"z":4},{"b":0.57,"v":-0.2596,"z":3},{"b":0.58,"v":-0.2596,"z":3},{"b":0.59,"v":-0.2596,"z":2},{"b":0.6,"v":-0.2596,"z":2},{"b":0.61,"v":-0.2596,"z":2},{"b":0.62,"v":-0.2596,"z":2},{"b":0.63,"v":-0.2596,"z":1},
{"b":0.45,"v":-0.2598,"z":4},{"b":0.46,"v":-0.2598,"z":4},{"b":0.47,"v":-0.2598,"z":4},{"b":0.48,"v":-0.2598,"z":4},{"b":0.49,"v":-0.2598,"z":4},{"b":0.5,"v":-0.2598,"z":4},{"b":0.51,"v":-0.2598,"z":4},{"b":0.52,"v":-0.2598,"z":4},{"b":0.53,"v":-0.2598,"z":2},{"b":0.54,"v":-0.2598,"z":2},{"b":0.55,"v":-0.2598,"z":3},{"b":0.56,"v":-0.2598,"z":3},{"b":0.57,"v":-0.2598,"z":2},{"b":0.58,"v":-0.2598,"z":2},{"b":0.59,"v":-0.2598,"z":1},{"b":0.6,"v":-0.2598,"z":1},{"b":0.61,"v":-0.2598,"z":1},
{"b":0.45,"v":-0.26,"z":3},{"b":0.46,"v":-0.26,"z":2},{"b":0.47,"v":-0.26,"z":3},{"b":0.48,"v":-0.26,"z":3},{"b":0.49,"v":-0.26,"z":3},{"b":0.5,"v":-0.26,"z":3},{"b":0.51,"v":-0.26,"z":3},{"b":0.52,"v":-0.26,"z":2},{"b":0.53,"v":-0.26,"z":2},{"b":0.54,"v":-0.26,"z":1},{"b":0.55,"v":-0.26,"z":2},{"b":0.56,"v":-0.26,"z":1},{"b":0.57,"v":-0.26,"z":1},
{"b":0.45,"v":-0.2602,"z":2},{"b":0.46,"v":-0.2602,"z":2},{"b":0.47,"v":-0.2602,"z":2},{"b":0.48,"v":-0.2602,"z":2},{"b":0.49,"v":-0.2602,"z":2},{"b":0.5,"v":-0.2602,"z":2},{"b":0.51,"v":-0.2602,"z":2},{"b":0.52,"v":-0.2602,"z":1}
]},"transform":[{"calculate":"min(datum.b+0.005,0.6995)","as":"b2"},{"calculate":"max(datum.b-0.005,0.4495)","as":"b"},{"calculate":"datum.v-0.0001","as":"v2"},{"calculate":"datum.v+0.0001","as":"v"}],"mark":{"type":"rect","strokeWidth":0.8},"encoding":{"x2":{"field":"b2"},"y2":{"field":"v2"},"stroke":{"field":"z","type":"quantitative","scale":{"domain":[-10,-9,-8,-7,-6,-5,-4,-3,-2,-1,0,1,2,3,4,5,6,7,8,9,10],"range":["#34488f","#3f5196","#4d5f9e","#6273a9","#8089b9","#939cc6","#a5acd4","#b8c1de","#d9deea","#e9edf1","#ffffff","#f9f4e8","#f6dee0","#f4ccb6","#f1adad","#ec9090","#e97c7a","#e56060","#e14848","#db3632","#db3632"]},"legend":null},"color":{"field":"z","type":"quantitative","scale":{"domain":[-10,-9,-8,-7,-6,-5,-4,-3,-2,-1,0,1,2,3,4,5,6,7,8,9,10],"range":["#34488f","#3f5196","#4d5f9e","#6273a9","#8089b9","#939cc6","#a5acd4","#b8c1de","#d9deea","#e9edf1","#ffffff","#f9f4e8","#f6dee0","#f4ccb6","#f1adad","#ec9090","#e97c7a","#e56060","#e14848","#db3632","#db3632"]},"legend":null}}},
{"data":{"values":[{"b":0.48752,"b2":0.49506,"z":-10},{"b":0.49506,"b2":0.50261,"z":-9},{"b":0.50261,"b2":0.51015,"z":-8},{"b":0.51015,"b2":0.5177,"z":-7},{"b":0.5177,"b2":0.52524,"z":-6},{"b":0.52524,"b2":0.53278,"z":-5},{"b":0.53278,"b2":0.54033,"z":-4},{"b":0.54033,"b2":0.54787,"z":-3},{"b":0.54787,"b2":0.55542,"z":-2},{"b":0.55542,"b2":0.56296,"z":-1},{"b":0.56296,"b2":0.5705,"z":0},{"b":0.5705,"b2":0.57805,"z":1},{"b":0.57805,"b2":0.58559,"z":2},{"b":0.58559,"b2":0.59314,"z":3},{"b":0.59314,"b2":0.60068,"z":4},{"b":0.60068,"b2":0.60822,"z":5},{"b":0.60822,"b2":0.61577,"z":6},{"b":0.61577,"b2":0.62331,"z":7},{"b":0.62331,"b2":0.63086,"z":8},{"b":0.63086,"b2":0.6384,"z":9}]},"transform":[{"calculate":"-0.248147","as":"v"},{"calculate":"-0.248756","as":"v2"}],"mark":{"type":"rect","strokeWidth":0.8},"encoding":{"x2":{"field":"b2"},"y2":{"field":"v2"},"stroke":{"field":"z","type":"quantitative","scale":{"domain":[-10,-9,-8,-7,-6,-5,-4,-3,-2,-1,0,1,2,3,4,5,6,7,8,9,10],"range":["#34488f","#3f5196","#4d5f9e","#6273a9","#8089b9","#939cc6","#a5acd4","#b8c1de","#d9deea","#e9edf1","#ffffff","#f9f4e8","#f6dee0","#f4ccb6","#f1adad","#ec9090","#e97c7a","#e56060","#e14848","#db3632","#db3632"]},"legend":null},"color":{"field":"z","type":"quantitative","scale":{"domain":[-10,-9,-8,-7,-6,-5,-4,-3,-2,-1,0,1,2,3,4,5,6,7,8,9,10],"range":["#34488f","#3f5196","#4d5f9e","#6273a9","#8089b9","#939cc6","#a5acd4","#b8c1de","#d9deea","#e9edf1","#ffffff","#f9f4e8","#f6dee0","#f4ccb6","#f1adad","#ec9090","#e97c7a","#e56060","#e14848","#db3632","#db3632"]},"legend":null}}},
{"data":{"values":[{"b":0.48752,"b2":0.6384,"v":-0.248147,"v2":-0.248756}]},"mark":{"type":"rect","filled":false,"stroke":"#777","strokeWidth":2},"encoding":{"x2":{"field":"b2"},"y2":{"field":"v2"}}},
{"data":{"values":[{"b":0.46597,"b2":0.71327,"v":-0.26465,"v2":-0.26616}]},"mark":{"type":"rect","fill":"#fdfd9b"},"encoding":{"x2":{"field":"b2"},"y2":{"field":"v2"}}},
{"data":{"values":[{"b":0.7127,"v":-0.2506,"v2":-0.25862}]},"mark":{"type":"rule","stroke":"#777","strokeWidth":1.5},"encoding":{"y2":{"field":"v2"}}},
{"data":{"values":[{"b":0.51248,"v":-0.25758},{"b":0.43137,"v":-0.26373}]},"mark":{"type":"line","stroke":"#00f500","strokeWidth":5},"encoding":{"order":{"field":"v","sort":"descending"}}},
{"data":{"values":[{"b":0.42626,"v":-0.26341,"v2":-0.26341},{"b":0.4274,"v":-0.26343,"v2":-0.26404},{"b":0.44158,"v":-0.26363,"v2":-0.26363}]},"mark":{"type":"area","fill":"#00f500"},"encoding":{"y2":{"field":"v2"}}},
{"data":{"values":[{"b":0.52127,"v":-0.25662}]},"mark":{"type":"point","shape":"circle","filled":false,"size":8281,"stroke":"#00f500","strokeWidth":5,"strokeDash":[5,8],"opacity":1}},
{"data":{"values":[{"b":0.40981,"v":-0.26583}]},"mark":{"type":"point","shape":"circle","filled":false,"size":22801,"stroke":"#00f500","strokeWidth":5,"strokeDash":[5.5,8.5],"opacity":1}},
{"data":{"values":[{"b":0.52836,"v":-0.25958},{"b":0.67981,"v":-0.2587}]},"mark":{"type":"line","stroke":"#231f1a","strokeWidth":7}},
{"data":{"values":[{"b":0.57147,"v":-0.25738},{"b":0.57147,"v":-0.25876}]},"mark":{"type":"line","stroke":"#231f1a","strokeWidth":6},"encoding":{"order":{"field":"v","sort":"descending"}}},
{"data":{"values":[{"b":0.56392,"v":-0.25866,"v2":-0.25866},{"b":0.57243,"v":-0.25866,"v2":-0.25923},{"b":0.58128,"v":-0.25866,"v2":-0.25866}]},"mark":{"type":"area","fill":"#231f1a"},"encoding":{"y2":{"field":"v2"}}},
{"data":{"values":[{"s":1,"b":0.51418,"v":-0.25661},{"s":1,"b":0.5312,"v":-0.25685},{"s":2,"b":0.54708,"v":-0.25695},{"s":2,"b":0.56353,"v":-0.25705},{"s":3,"b":0.57884,"v":-0.25724},{"s":3,"b":0.59643,"v":-0.25736},{"s":4,"b":0.61174,"v":-0.25748},{"s":4,"b":0.62932,"v":-0.25762},{"s":5,"b":0.64407,"v":-0.25777},{"s":5,"b":0.66052,"v":-0.25789}]},"mark":{"type":"line","stroke":"#231f1a","strokeWidth":5},"encoding":{"detail":{"field":"s"}}},
{"data":{"values":[{"b":0.55332,"v":-0.25634},{"b":0.56523,"v":-0.25626},{"b":0.57998,"v":-0.25622},{"b":0.59189,"v":-0.25612},{"b":0.6072,"v":-0.25606},{"b":0.61911,"v":-0.25603},{"b":0.63216,"v":-0.25593},{"b":0.64577,"v":-0.25593},{"b":0.65882,"v":-0.25581},{"b":0.67186,"v":-0.25575}]},"mark":{"type":"point","shape":"square","filled":true,"size":30,"color":"#231f1a","opacity":1}},
{"data":{"values":[{"s":"a","b":0.28957,"v":-0.26316},{"s":"a","b":0.31282,"v":-0.2636},{"s":"a","b":0.3582,"v":-0.26445},{"s":"a","b":0.37692,"v":-0.26481},{"s":"a","b":0.39053,"v":-0.26504},{"s":"a","b":0.40357,"v":-0.26522},{"s":"a","b":0.41322,"v":-0.26528},{"s":"a","b":0.42229,"v":-0.26522},{"s":"a","b":0.43364,"v":-0.26504},{"s":"a","b":0.44328,"v":-0.26483},{"s":"a","b":0.46597,"v":-0.26425},{"s":"a","b":0.48866,"v":-0.26366},{"s":"a","b":0.50681,"v":-0.2632},{"s":"b","b":0.28843,"v":-0.26392},{"s":"b","b":0.51248,"v":-0.26805},{"s":"c","b":0.28843,"v":-0.26471},{"s":"c","b":0.31282,"v":-0.26516},{"s":"c","b":0.34685,"v":-0.26578},{"s":"c","b":0.36784,"v":-0.26616},{"s":"c","b":0.38089,"v":-0.26636},{"s":"c","b":0.38542,"v":-0.26628},{"s":"c","b":0.39223,"v":-0.26616},{"s":"c","b":0.3996,"v":-0.26595},{"s":"c","b":0.40755,"v":-0.26567},{"s":"c","b":0.41889,"v":-0.26553},{"s":"c","b":0.42626,"v":-0.26561},{"s":"c","b":0.44895,"v":-0.26605},{"s":"c","b":0.49433,"v":-0.26692},{"s":"c","b":0.51305,"v":-0.26728},{"s":"d","b":0.28957,"v":-0.26887},{"s":"d","b":0.31282,"v":-0.26829},{"s":"d","b":0.35253,"v":-0.26731},{"s":"d","b":0.37635,"v":-0.26671},{"s":"d","b":0.38259,"v":-0.26654},{"s":"d","b":0.39053,"v":-0.2665},{"s":"d","b":0.3979,"v":-0.26661},{"s":"d","b":0.40755,"v":-0.26677},{"s":"d","b":0.42626,"v":-0.26718},{"s":"d","b":0.44895,"v":-0.26766},{"s":"d","b":0.49433,"v":-0.26859},{"s":"d","b":0.50794,"v":-0.26887}]},"mark":{"type":"line","stroke":"black","strokeWidth":2,"interpolate":"monotone"},"encoding":{"detail":{"field":"s"}}},
{"data":{"values":[{"t":"even N","b":0.47674,"v":-0.25129}]},"mark":{"type":"text","align":"left","baseline":"alphabetic","fontSize":49,"color":"#666"},"encoding":{"text":{"field":"t"}}},
{"data":{"values":[{"t":"X","b":0.59189,"v":-0.25601},{"t":"T","b":0.55502,"v":-0.25789},{"t":"S","b":0.55502,"v":-0.25933}]},"mark":{"type":"text","align":"center","baseline":"alphabetic","fontSize":46,"color":"#666"},"encoding":{"text":{"field":"t"}}},
{"data":{"values":[{"t":"0","b":0.55559,"v":-0.24809}]},"mark":{"type":"text","align":"center","baseline":"alphabetic","fontSize":32,"color":"#666"},"encoding":{"text":{"field":"t"}}},
{"data":{"values":[{"t":"-","b":0.49121,"v":-0.24799},{"t":"+","b":0.62564,"v":-0.24797}]},"mark":{"type":"text","align":"center","baseline":"alphabetic","fontSize":42,"fontWeight":"bold","color":"#666"},"encoding":{"text":{"field":"t"}}},
{"data":{"values":[{"t":"d","b":0.59926,"v":-0.25233},{"t":"/d","b":0.63159,"v":-0.25233}]},"mark":{"type":"text","align":"left","baseline":"alphabetic","fontSize":54,"color":"#3a3a3a","opacity":0.85},"encoding":{"text":{"field":"t"}}},
{"data":{"values":[{"t":"I","b":0.61741,"v":-0.25233}]},"mark":{"type":"text","align":"left","baseline":"alphabetic","fontSize":54,"font":"Liberation Serif","fontStyle":"italic","color":"#3a3a3a","opacity":0.85},"encoding":{"text":{"field":"t"}}},
{"data":{"values":[{"t":"V","b":0.66563,"v":-0.25233}]},"mark":{"type":"text","align":"left","baseline":"alphabetic","fontSize":54,"fontStyle":"italic","color":"#3a3a3a","opacity":0.85},"encoding":{"text":{"field":"t"}}},
{"data":{"values":[{"t":"L","b":0.68548,"v":-0.25233}]},"mark":{"type":"text","align":"left","baseline":"alphabetic","fontSize":44,"color":"#3a3a3a","opacity":0.85},"encoding":{"text":{"field":"t"}}},
{"data":{"values":[{"t":"e","b":0.73823,"v":-0.25715},{"t":"=1.2meV","b":0.73823,"v":-0.25528}]},"mark":{"type":"text","align":"left","baseline":"alphabetic","angle":270,"fontSize":48,"color":"#777"},"encoding":{"text":{"field":"t"}}},
{"data":{"values":[{"t":"V","b":0.73823,"v":-0.2566}]},"mark":{"type":"text","align":"left","baseline":"alphabetic","angle":270,"fontSize":46,"fontStyle":"italic","color":"#777"},"encoding":{"text":{"field":"t"}}},
{"data":{"values":[{"t":"sd","b":0.72972,"v":-0.25593}]},"mark":{"type":"text","align":"left","baseline":"alphabetic","angle":270,"fontSize":30,"color":"#777"},"encoding":{"text":{"field":"t"}}},
{"data":{"values":[{"t":"V","b":0.40244,"v":-0.25654},{"t":"(V)","b":0.40244,"v":-0.25528}]},"mark":{"type":"text","align":"left","baseline":"alphabetic","angle":270,"fontSize":44,"color":"#333"},"encoding":{"text":{"field":"t"}}},
{"data":{"values":[{"t":"L","b":0.41095,"v":-0.25591}]},"mark":{"type":"text","align":"left","baseline":"alphabetic","angle":270,"fontSize":32,"color":"#333"},"encoding":{"text":{"field":"t"}}},
{"data":{"values":[{"t":"X","b":0.51361,"v":-0.26436},{"t":"T","b":0.52326,"v":-0.26852}]},"mark":{"type":"text","align":"center","baseline":"alphabetic","fontSize":46,"color":"black"},"encoding":{"text":{"field":"t"}}},
{"data":{"values":[{"t":"Spin-orbit coupling","b":0.47674,"v":-0.26573}]},"mark":{"type":"text","align":"left","baseline":"alphabetic","fontSize":47.5,"color":"black"},"encoding":{"text":{"field":"t"}}}
]}
